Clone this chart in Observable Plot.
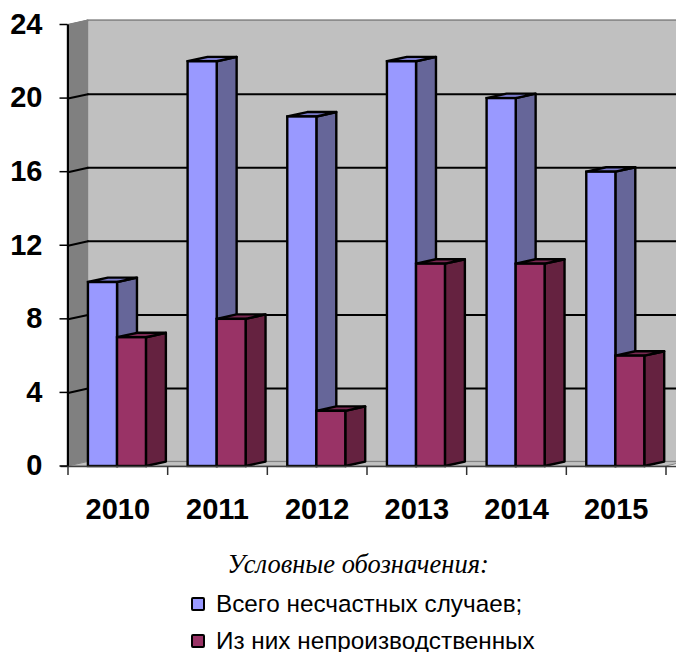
<!DOCTYPE html>
<html lang="ru"><head><meta charset="utf-8">
<script src="https://cdn.jsdelivr.net/npm/d3@7"></script>
<script src="https://cdn.jsdelivr.net/npm/@observablehq/plot@0.6"></script>
<style>
html,body{margin:0;padding:0;background:#fff;width:676px;height:652px;overflow:hidden}
svg{display:block;overflow:hidden}
#legend{position:relative;height:121px}
.t{position:absolute;left:0;width:716px;text-align:center;top:18px;font:italic 26.5px "Liberation Serif",serif;line-height:30px;color:#000}
.i{position:absolute;left:191px;font:24.3px "Liberation Sans",sans-serif;line-height:26px;color:#000;white-space:nowrap}
.i b{display:inline-block;box-sizing:border-box;width:14px;height:14px;border:2.5px solid #000;border-radius:2px;margin-right:11px;vertical-align:1px}
</style></head><body>
<div id="chart"></div>
<div id="legend"></div>
<script>
const years = ["2010","2011","2012","2013","2014","2015"];
const total = [10,22,19,22,20,16];
const nonWork = [7,8,3,11,11,6];
const yTicks = [0,4,8,12,16,20,24];
const seriesNames = ["Всего несчастных случаев;","Из них непроизводственных"];
const legendTitle = "Условные обозначения:";
const colors = {blue:"#9999ff",blueSide:"#666699",blueTop:"#7a7acc",red:"#993366",redSide:"#652240",redTop:"#7a2952"};

const DX = 0.2, DY = 0.24;           // oblique depth in data units
const W = [0.205,0.497,0.787];       // bar edges inside a category
const XMAX = 6, YMAX = 24;

function sideFace(vals,a){return vals.flatMap((v,i)=>{const x=i+W[a+1];return [
  {id:i,x,y1:0,y2:v},{id:i,x:x+DX,y1:DY,y2:v+DY}];});}
function topFace(vals,a){return vals.flatMap((v,i)=>[
  {id:i,y:v,x1:i+W[a],x2:i+W[a+1]},{id:i,y:v+DY,x1:i+W[a]+DX,x2:i+W[a+1]+DX}]);}
function frontFace(vals,a){return vals.map((v,i)=>({x1:i+W[a],x2:i+W[a+1],y1:0,y2:v}));}
const wallSide=[{x:0,y1:0,y2:YMAX},{x:DX,y1:DY,y2:YMAX+DY}];
const floorFace=[{y:0,x1:0,x2:XMAX},{y:DY,x1:DX,x2:XMAX+DX}];
const sw=2.4;
const bars=(vals,a,f,s,t)=>[
  Plot.areaY(sideFace(vals,a),{x:"x",y1:"y1",y2:"y2",z:"id",fill:s,stroke:"#000",strokeWidth:sw,strokeLinejoin:"round"}),
  Plot.areaX(topFace(vals,a),{y:"y",x1:"x1",x2:"x2",z:"id",fill:t,stroke:"#000",strokeWidth:sw,strokeLinejoin:"round"}),
  Plot.rect(frontFace(vals,a),{x1:"x1",x2:"x2",y1:"y1",y2:"y2",fill:f,stroke:"#000",strokeWidth:sw})
];
const grid=yTicks.filter(v=>v>0&&v<24);
const chart=Plot.plot({
  width:676,height:531,marginLeft:67.5,marginRight:10.5,marginTop:24.5,marginBottom:65,
  x:{type:"linear",domain:[0,XMAX]},
  y:{type:"linear",domain:[0,YMAX]},
  style:{background:"transparent",fontFamily:"Liberation Sans, sans-serif"},
  marks:[
    Plot.rect([{x1:DX,x2:XMAX+DX,y1:DY,y2:YMAX+DY}],{x1:"x1",x2:"x2",y1:"y1",y2:"y2",fill:"#c0c0c0",stroke:"#808080",strokeWidth:1.5}),
    Plot.areaY(wallSide,{x:"x",y1:"y1",y2:"y2",fill:"#808080",stroke:"#808080",strokeWidth:1}),
    Plot.areaX(floorFace,{y:"y",x1:"x1",x2:"x2",fill:"#c0c0c0",stroke:"#808080",strokeWidth:1}),
    Plot.ruleY(grid,{y:d=>d+DY,x1:DX,x2:XMAX+DX,stroke:"#000",strokeWidth:2}),
    Plot.line(grid.flatMap(v=>[{v,x:0,y:v},{v,x:DX,y:v+DY}]),{x:"x",y:"y",z:"v",stroke:"#000",strokeWidth:2}),
    Plot.line([{v:24,x:0,y:24},{v:24,x:DX,y:24+DY}],{x:"x",y:"y",stroke:"#808080",strokeWidth:1.5}),
    ...bars(total,0,colors.blue,colors.blueSide,colors.blueTop),
    ...bars(nonWork,1,colors.red,colors.redSide,colors.redTop),
    Plot.ruleX([0],{y1:0,y2:YMAX,stroke:"#000",strokeWidth:2}),
    Plot.ruleY([0],{x1:-0.07,x2:XMAX+DX,stroke:"#404040",strokeWidth:1.5}),
    Plot.axisY({ticks:yTicks,tickSize:8,tickPadding:17.5,fontSize:29,fontWeight:"bold",label:null,stroke:"#000",strokeWidth:1.5,dy:-0.5}),
    Plot.axisX({ticks:d3.range(0,7),tickSize:9,tickFormat:()=>"",label:null,stroke:"#303030",strokeWidth:1.5}),
    Plot.text(years,{x:(d,i)=>i+0.5,y:0,text:d=>d,dy:43,fontSize:29,fontWeight:"bold",fill:"#000"})
  ]
});
document.getElementById("chart").append(chart);
const L=document.getElementById("legend");
L.innerHTML=`<div class="t">${legendTitle}</div>`+
 `<div class="i" style="top:60px"><b style="background:${colors.blue}"></b>${seriesNames[0]}</div>`+
 `<div class="i" style="top:97px"><b style="background:${colors.red}"></b>${seriesNames[1]}</div>`;
</script>
</body></html>
